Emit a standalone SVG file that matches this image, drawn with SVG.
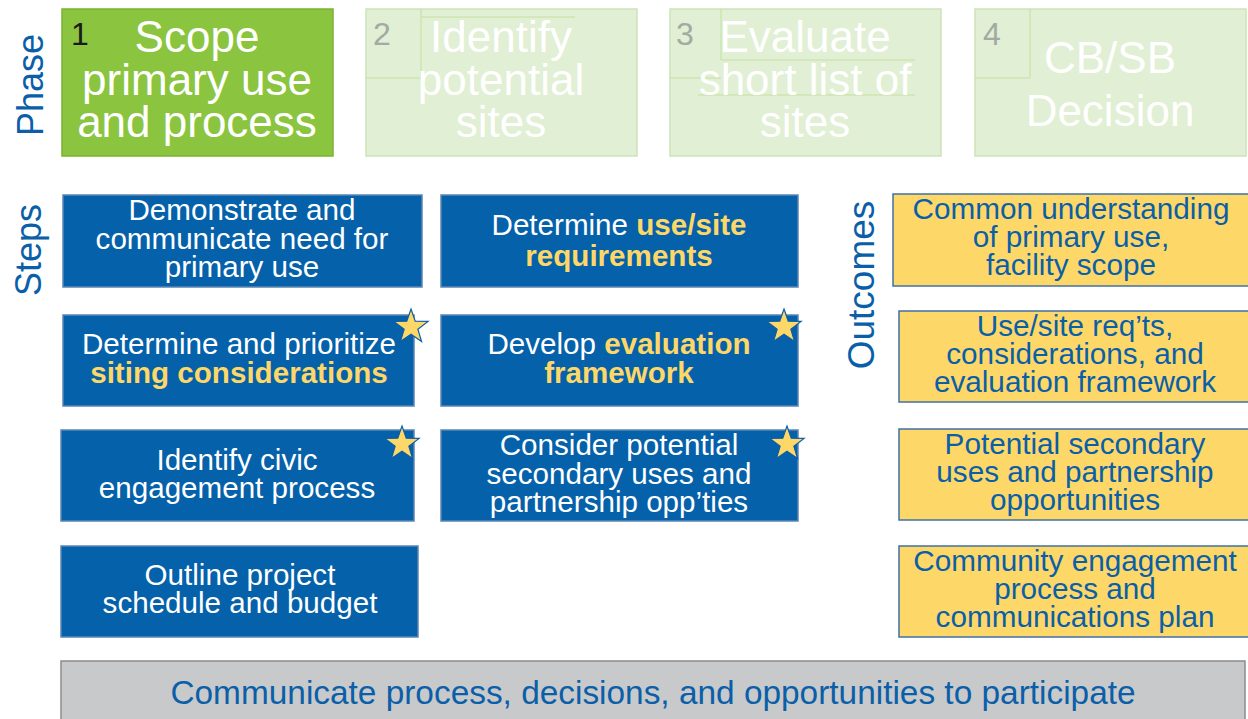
<svg xmlns="http://www.w3.org/2000/svg" width="1248" height="719" viewBox="0 0 1248 719">
<style>
text{font-family:"Liberation Sans",Arial,sans-serif}
.lbl{fill:#0a5fa8;font-size:36px}
.ph1{fill:#8bc53f;stroke:#7ab233;stroke-width:1.5}
.phx{fill:#e1efd4;stroke:#cde3b8;stroke-width:1.5}
.pt{fill:#fff;font-size:44px;text-anchor:middle}
.num{fill:#a3aaa3;font-size:32px}
.faint{stroke:#c4df9f;stroke-width:1;fill:none}
.step{fill:#0561a9;stroke:#5b87b5;stroke-width:1.5}
.st{fill:#fff;font-size:29.6px;text-anchor:middle}
.hl{fill:#fdd767;font-weight:bold}
.out{fill:#fdd767;stroke:#3f71a8;stroke-width:1.5}
.ot{fill:#0a5fa8;font-size:29.7px;text-anchor:middle}
.star{fill:#fdd767;stroke:#0a5fa8;stroke-width:1.2}
</style>
<defs>
<path id="star" d="M0,-18 L4.23,-5.82 L17.12,-5.56 L6.85,2.22 L10.58,14.56 L0,7.2 L-10.58,14.56 L-6.85,2.22 L-17.12,-5.56 L-4.23,-5.82 Z"/>
</defs>

<g id="labels">
<text class="lbl" transform="translate(43,85) rotate(-90)" text-anchor="middle">Phase</text>
<text class="lbl" transform="translate(41,250) rotate(-90)" text-anchor="middle">Steps</text>
<text class="lbl" transform="translate(874,285) rotate(-90)" text-anchor="middle" style="font-size:37px">Outcomes</text>
</g>

<g id="phase1">
<rect class="ph1" x="62" y="9" width="271" height="147"/>
<text x="71" y="45" style="font-size:32px;fill:#1a1a1a">1</text>
<text class="pt" x="197" y="52">Scope</text>
<text class="pt" x="197" y="95">primary use</text>
<text class="pt" x="197" y="137">and process</text>
</g>

<g id="phase2">
<rect class="phx" x="366" y="9" width="271" height="147"/>
<path class="faint" d="M421,9 V78 M366,78 H421 M421,17 H575"/>
<text class="num" x="373" y="45">2</text>
<text class="pt" x="501" y="52">Identify</text>
<text class="pt" x="501" y="95">potential</text>
<text class="pt" x="501" y="137">sites</text>
</g>

<g id="phase3">
<rect class="phx" x="670" y="9" width="271" height="147"/>
<path class="faint" d="M721,9 V60 M670,78 H721 M721,60 H915 M698,95 H915"/>
<text class="num" x="676" y="45">3</text>
<text class="pt" x="805" y="52">Evaluate</text>
<text class="pt" x="805" y="95">short list of</text>
<text class="pt" x="805" y="137">sites</text>
</g>

<g id="phase4">
<rect class="phx" x="975" y="9" width="271" height="147"/>
<path class="faint" d="M1030,9 V78 M975,78 H1030"/>
<text class="num" x="983" y="45">4</text>
<text class="pt" x="1110" y="73">CB/SB</text>
<text class="pt" x="1110" y="126">Decision</text>
</g>

<g id="step1">
<rect class="step" x="63" y="195" width="359" height="92"/>
<text class="st" x="242" y="220">Demonstrate and</text>
<text class="st" x="242" y="249">communicate need for</text>
<text class="st" x="242" y="277">primary use</text>
</g>

<g id="step2">
<rect class="step" x="441" y="195" width="357" height="92"/>
<text class="st" x="619" y="235">Determine <tspan class="hl">use/site</tspan></text>
<text class="st" x="619" y="266"><tspan class="hl">requirements</tspan></text>
</g>

<g id="step3">
<rect class="step" x="63" y="315" width="351" height="91"/>
<text class="st" x="239" y="354">Determine and prioritize</text>
<text class="st" x="239" y="383"><tspan class="hl">siting considerations</tspan></text>
<use href="#star" class="star" x="411" y="327"/>
</g>

<g id="step4">
<rect class="step" x="441" y="315" width="357" height="91"/>
<text class="st" x="619" y="354">Develop <tspan class="hl">evaluation</tspan></text>
<text class="st" x="619" y="383"><tspan class="hl">framework</tspan></text>
<use href="#star" class="star" x="784" y="327"/>
</g>

<g id="step5">
<rect class="step" x="61" y="430" width="353" height="91"/>
<text class="st" x="237" y="470">Identify civic</text>
<text class="st" x="237" y="498">engagement process</text>
<use href="#star" class="star" x="402" y="444"/>
</g>

<g id="step6">
<rect class="step" x="441" y="430" width="357" height="91"/>
<text class="st" x="619" y="455">Consider potential</text>
<text class="st" x="619" y="484">secondary uses and</text>
<text class="st" x="619" y="512">partnership opp’ties</text>
<use href="#star" class="star" x="787" y="444"/>
</g>

<g id="step7">
<rect class="step" x="61" y="546" width="357" height="91"/>
<text class="st" x="240" y="585">Outline project</text>
<text class="st" x="240" y="613">schedule and budget</text>
</g>

<g id="outcome1">
<rect class="out" x="893" y="194" width="360" height="92"/>
<text class="ot" x="1071" y="219">Common understanding</text>
<text class="ot" x="1071" y="247">of primary use,</text>
<text class="ot" x="1071" y="275">facility scope</text>
</g>

<g id="outcome2">
<rect class="out" x="899" y="311" width="354" height="91"/>
<text class="ot" x="1075" y="336">Use/site req’ts,</text>
<text class="ot" x="1075" y="364">considerations, and</text>
<text class="ot" x="1075" y="392">evaluation framework</text>
</g>

<g id="outcome3">
<rect class="out" x="899" y="429" width="354" height="91"/>
<text class="ot" x="1075" y="454">Potential secondary</text>
<text class="ot" x="1075" y="482">uses and partnership</text>
<text class="ot" x="1075" y="510">opportunities</text>
</g>

<g id="outcome4">
<rect class="out" x="899" y="546" width="354" height="91"/>
<text class="ot" x="1075" y="571">Community engagement</text>
<text class="ot" x="1075" y="599">process and</text>
<text class="ot" x="1075" y="627">communications plan</text>
</g>

<g id="communicate">
<rect x="61" y="661" width="1184" height="70" fill="#c8c9cb" stroke="#8c8c8c" stroke-width="1.5"/>
<text x="653" y="704" text-anchor="middle" style="fill:#0a5fa8;font-size:33.4px">Communicate process, decisions, and opportunities to participate</text>
</g>

<g id="connectors"></g>
</svg>
